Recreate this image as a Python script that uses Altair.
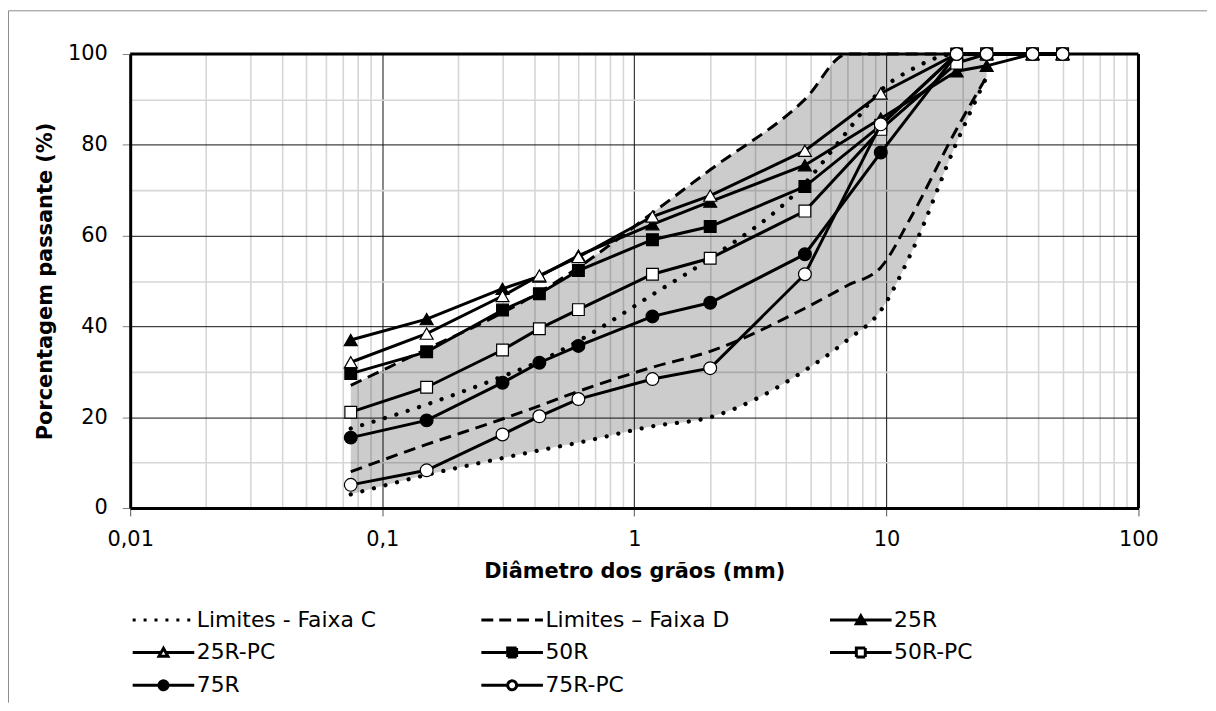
import altair as alt
import pandas as pd

# ---------------- data ----------------
SIEVES = [0.075, 0.15, 0.3, 0.42, 0.6, 1.18, 2.0, 4.75, 9.5, 19, 25, 38, 50]
S_25R = [37.0, 41.6, 48.3, 51.0, 55.6, 62.5, 67.5, 75.5, 85.8, 96.2, 97.4, 100, 100]
S_25R_PC = [32.1, 38.4, 46.7, 51.2, 55.3, 64.2, 68.8, 78.7, 91.3, 100, 100, 100, 100]
S_50R = [29.6, 34.4, 43.6, 47.2, 52.3, 59.1, 62.0, 70.8, 84.3, 100, 100, 100, 100]
S_50R_PC = [21.1, 26.6, 34.8, 39.5, 43.7, 51.5, 55.0, 65.4, 83.4, 98.0, 100, 100, 100]
S_75R = [15.5, 19.3, 27.6, 32.0, 35.7, 42.2, 45.2, 55.9, 78.3, 100, 100, 100, 100]
S_75R_PC = [5.1, 8.3, 16.2, 20.2, 24.0, 28.4, 30.8, 51.5, 84.5, 100, 100, 100, 100]

LIM_X = [0.075, 0.15, 0.3, 0.42, 0.6, 1.18, 2.0, 4.75, 7.0, 9.5, 12.5, 19, 25]
C_LOW = [3.0, 7.3, 11.0, 12.7, 14.4, 18.0, 20.0, 30.3, 37.0, 43.5, 56.0, 80.5, 95.0]
C_UP = [17.5, 22.8, 29.0, 32.3, 36.8, 47.0, 55.0, 71.5, 83.0, 92.0, 96.5, 100, 100]
D_LOW = [8.0, 14.0, 19.6, 22.5, 25.7, 31.0, 34.5, 44.0, 49.0, 53.0, 64.0, 83.5, 95.0]
D_UP = [27.0, 35.0, 43.0, 47.5, 53.0, 65.0, 74.5, 90.0, 100, 100, 100, 100, 100]

LEGEND_NAMES = ["Limites - Faixa C", "Limites \u2013 Faixa D", "25R", "25R-PC",
                "50R", "50R-PC", "75R", "75R-PC"]
X_MAJOR = [0.01, 0.1, 1, 10, 100]
X_MINOR = [k * d for d in (0.01, 0.1, 1, 10) for k in range(2, 10)]
Y_TICKS = list(range(0, 101, 10))

FONT = "DejaVu Sans"

# ---------------- scales / axes ----------------
xscale = alt.Scale(type="log", domain=[0.01, 100], nice=False)
yscale = alt.Scale(domain=[0, 100], nice=False)

major_test = "indexof([0.01,0.1,1,10,100], datum.value) >= 0"
xaxis = alt.Axis(
    values=X_MAJOR + X_MINOR,
    labelExpr=f"{major_test} ? replace(format(datum.value, '~g'), '.', ',') : ''",
    labelFlush=False, labelOverlap=False, labelBound=False,
    labelFont=FONT, labelFontSize=21, labelColor="black", labelPadding=13,
    tickSize=8, tickColor={"condition": {"test": major_test, "value": "#555555"}, "value": "transparent"},
    gridColor={"condition": {"test": major_test, "value": "#111111"}, "value": "#d6d6d6"},
    gridWidth={"condition": {"test": major_test, "value": 1}, "value": 1.6},
    domainColor="black", domainWidth=3,
    title="Di\u00e2metro dos gr\u00e3os (mm)", titleFont=FONT, titleFontSize=21,
    titleFontWeight="bold", titleColor="black", titlePadding=11,
)
ymajor = "datum.value % 20 === 0"
yaxis = alt.Axis(
    values=Y_TICKS,
    labelExpr=f"{ymajor} ? datum.label : ''",
    labelFont=FONT, labelFontSize=21, labelColor="black", labelPadding=15,
    tickSize=8, tickColor={"condition": {"test": ymajor, "value": "#808080"}, "value": "transparent"},
    gridColor={"condition": {"test": ymajor, "value": "#111111"}, "value": "#d6d6d6"},
    gridWidth={"condition": {"test": ymajor, "value": 1}, "value": 1.6},
    domainColor="black", domainWidth=3,
    title="Porcentagem passante (%)", titleFont=FONT, titleFontSize=21,
    titleFontWeight="bold", titleColor="black", titlePadding=12,
)

def X(field):
    return alt.X(field, type="quantitative", scale=xscale, axis=xaxis)

def Y(field):
    return alt.Y(field, type="quantitative", scale=yscale, axis=yaxis)

one = pd.DataFrame({"a": [0]})

# frame around the whole picture (decoration)
frame_top = alt.Chart(one).mark_rule(color="#8c8c8c", strokeWidth=1).encode(
    x=alt.value(-122.5), x2=alt.value(1084), y=alt.value(-43.5))
frame_left = alt.Chart(one).mark_rule(color="#8c8c8c", strokeWidth=1).encode(
    x=alt.value(-122.5), y=alt.value(-43.5), y2=alt.value(653))

# gray band between the extreme limits
band_df = pd.DataFrame({"d": LIM_X, "lo": C_LOW, "hi": D_UP})
band = alt.Chart(band_df).mark_area(interpolate="monotone", color="black", opacity=0.2).encode(
    x=X("d"), y=Y("lo"), y2="hi")

# plot border top / right
border_top = alt.Chart(one).mark_rule(color="black", strokeWidth=3).encode(y=alt.datum(100))
border_right = alt.Chart(one).mark_rule(color="black", strokeWidth=3).encode(x=alt.datum(100))

layers = [frame_top, frame_left, band, border_top, border_right]

def limit_line(vals, dotted):
    df = pd.DataFrame({"d": LIM_X, "p": vals})
    if dotted:
        mk = alt.Chart(df).mark_line(interpolate="monotone", color="black", strokeWidth=4.3,
                                     strokeDash=[0.01, 12], strokeCap="round")
    else:
        mk = alt.Chart(df).mark_line(interpolate="monotone", color="black", strokeWidth=3,
                                     strokeDash=[12, 7])
    return mk.encode(x=X("d"), y=Y("p"))

layers += [limit_line(C_UP, True), limit_line(C_LOW, True),
           limit_line(D_UP, False), limit_line(D_LOW, False)]

SERIES = [
    (S_25R, "triangle-up", "black", 170),
    (S_25R_PC, "triangle-up", "white", 170),
    (S_50R, "square", "black", 140),
    (S_50R_PC, "square", "white", 140),
    (S_75R, "circle", "black", 165),
    (S_75R_PC, "circle", "white", 165),
]
for vals, shape, fill, size in SERIES:
    df = pd.DataFrame({"d": SIEVES, "p": vals})
    base = alt.Chart(df)
    layers.append(base.mark_line(color="black", strokeWidth=3).encode(x=X("d"), y=Y("p")))
    layers.append(base.mark_point(shape=shape, filled=True, fill=fill, stroke="black",
                                  strokeWidth=1.2, size=size, opacity=1).encode(x=X("d"), y=Y("p")))

# ---------------- legend (driven by an empty data layer) ----------------
L0, L1 = -1.0, 5.2
C, R = 2.1, 0.45

def open_gap(r):
    return f"M{L0},0L{C - r:.2f},0M{C + r:.2f},0L{L1},0"

TRI = f"M{C},-0.42L{C + R},0.38L{C - R},0.38Z"
SQ = f"M{C - R},{-R}L{C + R},{-R}L{C + R},{R}L{C - R},{R}Z"
CIR = f"M{C - R},0A{R},{R},0,1,0,{C + R},0A{R},{R},0,1,0,{C - R},0Z"
FULL = f"M{L0},0L{L1},0"
SHAPE_PATHS = [
    FULL, FULL,
    FULL + TRI, open_gap(0.22) + TRI,
    FULL + SQ, open_gap(R) + SQ,
    FULL + CIR, open_gap(R) + CIR,
]
FILLS = ["transparent", "transparent", "black", "white", "black", "white", "black", "white"]
STROKES = ["black"] * 8
DASHES = [[3, 8], [12, 6], [1, 0], [1, 0], [1, 0], [1, 0], [1, 0], [1, 0]]

leg = alt.Legend(
    title=None, orient="none", legendX=1, legendY=558, columns=3, direction="horizontal",
    gridAlign="all", columnPadding=94, rowPadding=10, padding=0, symbolSize=400,
    symbolStrokeWidth=3, symbolOpacity=1, labelLimit=400,
    labelFont=FONT, labelFontSize=22, labelColor="black", labelOffset=43,
)
legend_layer = alt.Chart(alt.Data(values=[])).mark_point(
    filled=True, opacity=1, strokeWidth=3).encode(
    shape=alt.Shape("s:N", scale=alt.Scale(domain=LEGEND_NAMES, range=SHAPE_PATHS), legend=leg),
    fill=alt.Fill("s:N", scale=alt.Scale(domain=LEGEND_NAMES, range=FILLS), legend=leg),
    stroke=alt.Stroke("s:N", scale=alt.Scale(domain=LEGEND_NAMES, range=STROKES), legend=leg),
    strokeDash=alt.StrokeDash("s:N", scale=alt.Scale(domain=LEGEND_NAMES, range=DASHES), legend=leg),
)
layers.append(legend_layer)

chart = alt.layer(*layers).properties(width=1015, height=457, padding=0).configure_view(
    stroke="transparent").configure(font=FONT)

chart.save("out.html", embed_options={"renderer": "svg", "actions": False})
